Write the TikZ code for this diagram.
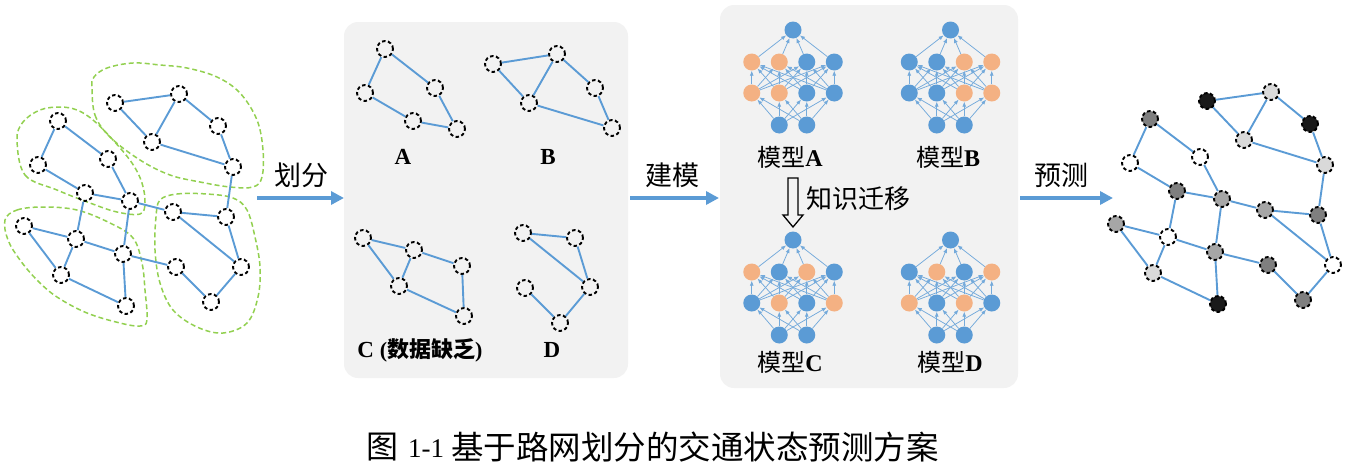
\documentclass[tikz,border=0pt]{standalone}
\usepackage{fontspec}
\setmainfont{Liberation Serif}
\newfontfamily\cjk{Noto Sans CJK SC}
\usetikzlibrary{arrows.meta}
\definecolor{eblue}{HTML}{5B9BD5}
\definecolor{bgray}{HTML}{F2F2F2}
\definecolor{lgreen}{HTML}{92D050}
\definecolor{nnb}{HTML}{5B9BD5}
\definecolor{nno}{HTML}{F4B183}
\definecolor{gk}{HTML}{1A1A1A}
\definecolor{gd}{HTML}{7F7F7F}
\definecolor{gm}{HTML}{A6A6A6}
\definecolor{gl}{HTML}{D9D9D9}
\definecolor{gw}{HTML}{FFFFFF}
\tikzset{
 gn/.style={circle,draw=black,line width=1.9pt,dash pattern=on 3.5pt off 2.5pt,minimum size=16pt,inner sep=0pt},
 ge/.style={draw=eblue,line width=1.9pt},
 blob/.style={draw=lgreen,line width=1.5pt,dash pattern=on 5pt off 3pt},
 nn/.style={circle,minimum size=17pt,inner sep=0pt},
 na/.style={draw=eblue!85,line width=0.75pt,-{Latex[length=5pt,width=4pt]}},
 bigarrow/.style={draw=eblue,line width=3.4pt,-{Triangle[length=13pt,width=13pt]}},
 lbl/.style={font=\cjk\fontsize{27}{27}\selectfont,inner sep=0pt},
 let/.style={font=\bfseries\fontsize{23}{23}\selectfont,inner sep=0pt},
 mlbl/.style={font=\fontsize{24}{24}\selectfont,inner sep=0pt},
}
\newcommand\mynet[5]{%
 \node[nn,fill=nnb] (#1t) at (#2,#3) {};
 \foreach \c [count=\i] in {#4} \node[nn,fill=nn\c] (#1a\i) at ({#2+(\i-2.5)*27.5},{#3+32}) {};
 \foreach \c [count=\i] in {#5} \node[nn,fill=nn\c] (#1b\i) at ({#2+(\i-2.5)*27.5},{#3+63}) {};
 \foreach \i in {1,2} \node[nn,fill=nnb] (#1c\i) at ({#2+(\i-1.5)*27.5},{#3+95}) {};
 \foreach \i in {1,...,4} \draw[na] (#1a\i) -- (#1t);
 \foreach \i in {1,...,4} \foreach \j in {1,...,4} \draw[na] (#1b\i) -- (#1a\j);
 \foreach \i in {1,2} \foreach \j in {1,...,4} \draw[na] (#1c\i) -- (#1b\j);
}
\begin{document}
\begin{tikzpicture}[x=1pt,y=-1pt]
\useasboundingbox (0,0) rectangle (1349,466);
% panels
\fill[bgray,rounded corners=14pt] (344,22) rectangle (628,378);
\fill[bgray,rounded corners=14pt] (720,5) rectangle (1018,388);
% blobs
\draw[blob] plot[smooth cycle,tension=0.6] coordinates {(92,87) (95,115) (110,137) (140,160) (170,175) (200,182) (230,187) (253,187) (262,177) (263,150) (257,120) (240,93) (217,77) (187,68) (160,65) (133,63) (107,68) (94,77)};
\draw[blob] plot[smooth cycle,tension=0.6] coordinates {(17,140) (25,175) (57,190) (90,203) (117,212) (140,214) (145,203) (142,183) (132,163) (113,140) (93,120) (77,110) (60,107) (40,110) (23,122)};
\draw[blob] plot[smooth cycle,tension=0.6] coordinates {(5,220) (17,210) (43,207) (77,210) (110,223) (133,238) (142,263) (145,290) (147,320) (140,326) (120,323) (87,313) (57,297) (37,280) (20,260) (8,240)};
\draw[blob] plot[smooth cycle,tension=0.6] coordinates {(160,200) (177,194) (207,194) (233,198) (247,210) (255,237) (260,267) (258,297) (247,323) (223,333) (197,327) (173,310) (160,283) (155,250) (156,217)};
% left graph
\foreach \i/\x/\y in {1/115/103,2/179/94,3/218/126,4/152/142,5/233/167,6/58/121,7/38/165,8/108/159,9/85/193,10/130/201,11/173/212,12/226/217,13/24/226,14/76/239,15/123/254,16/176/267,17/241/267,18/61/275,19/126/306,20/211/302}
  \node[gn] (L\i) at (\x,\y) {};
% right graph
\foreach \i/\x/\y/\c in {1/115/103/gk,2/179/94/gl,3/218/126/gk,4/152/142/gl,5/233/167/gl,6/58/121/gd,7/38/165/gw,8/108/159/gw,9/85/193/gd,10/130/201/gm,11/173/212/gm,12/226/217/gd,13/24/226/gm,14/76/239/gw,15/123/254/gm,16/176/267/gd,17/241/267/gw,18/61/275/gl,19/126/306/gk,20/211/302/gd}
  \node[gn,fill=\c] (R\i) at ({\x+1092},{\y-2}) {};
\foreach \a/\b in {1/2,1/4,2/4,2/3,3/5,4/5,5/12,6/8,6/7,7/9,8/10,9/10,9/14,10/11,10/15,11/12,11/17,12/17,17/20,20/16,16/15,13/14,13/18,14/15,14/18,18/19,15/19}{
  \draw[ge] (L\a) -- (L\b);
  \draw[ge] (R\a) -- (R\b);
}
% panel graphs
\foreach \n/\x/\y in {a1/385/49,a2/435/88,a3/365/93,a4/413/121,a5/457/129,
  b1/493/64,b2/557/54,b3/595/88,b4/529/103,b5/612/128,
  c1/363/238,c2/414/250,c3/462/266,c4/399/286,c5/464/316,
  d1/523/233,d2/575/238,d3/525/288,d4/590/287,d5/560/323}
  \node[gn] (\n) at (\x,\y) {};
\foreach \a/\b in {a1/a3,a1/a2,a2/a5,a3/a4,a4/a5,
  b1/b2,b1/b4,b2/b4,b2/b3,b3/b5,b4/b5,
  c1/c2,c1/c4,c2/c4,c2/c3,c3/c5,c4/c5,
  d1/d2,d1/d4,d2/d4,d4/d5,d3/d5}
  \draw[ge] (\a) -- (\b);
\node[let] (tA) at (403,157) {A};
\node[let] (tB) at (548,157) {B};
\node[let] (tC) at (420,350) {C \fontsize{22}{22}\selectfont(\cjk\bfseries 数据缺乏\rmfamily\bfseries)};
\node[let] (tD) at (552,350) {D};
% neural nets
\mynet{A}{793}{30}{o,o,b,b}{o,o,b,b}
\mynet{B}{950.5}{30}{b,b,o,o}{b,b,o,o}
\mynet{C}{793}{240}{o,b,o,b}{b,o,b,o}
\mynet{D}{950.5}{240}{b,o,b,o}{o,b,o,b}
\node[mlbl] (mA) at (790,157) {\cjk 模型\rmfamily\bfseries A};
\node[mlbl] (mB) at (948,157) {\cjk 模型\rmfamily\bfseries B};
\node[mlbl] (mC) at (790,362) {\cjk 模型\rmfamily\bfseries C};
\node[mlbl] (mD) at (950,362) {\cjk 模型\rmfamily\bfseries D};
% knowledge transfer arrow
\draw[line width=1.3pt,fill=bgray] (788,178) -- (788,215) -- (783,215) -- (793,227) -- (803,215) -- (798,215) -- (798,178) -- cycle;
\node[lbl,anchor=west,font=\cjk\fontsize{26}{26}\selectfont] (kt) at (806,199) {知识迁移};
% main arrows
\coordinate (p1s) at (257,198); \coordinate (p1e) at (344,198);
\coordinate (p2s) at (630,198); \coordinate (p2e) at (719,198);
\coordinate (p3s) at (1020,198); \coordinate (p3e) at (1113,198);
\draw[bigarrow] (p1s) -- (p1e);
\draw[bigarrow] (p2s) -- (p2e);
\draw[bigarrow] (p3s) -- (p3e);
\node[lbl] (l1) at (301,175) {划分};
\node[lbl] (l2) at (672,175) {建模};
\node[lbl] (l3) at (1061,175) {预测};
% caption
\node[anchor=west,inner sep=0pt,font=\cjk\fontsize{32}{32}\selectfont] (cap0) at (366,447) {图};
\node[anchor=west,inner sep=0pt,font=\fontsize{27}{27}\selectfont] (cap1) at (408,449) {1-1};
\node[anchor=west,inner sep=0pt,font=\cjk\fontsize{32.5}{32.5}\selectfont] (cap2) at (451,447) {基于路网划分的交通状态预测方案};
\end{tikzpicture}
\end{document}
